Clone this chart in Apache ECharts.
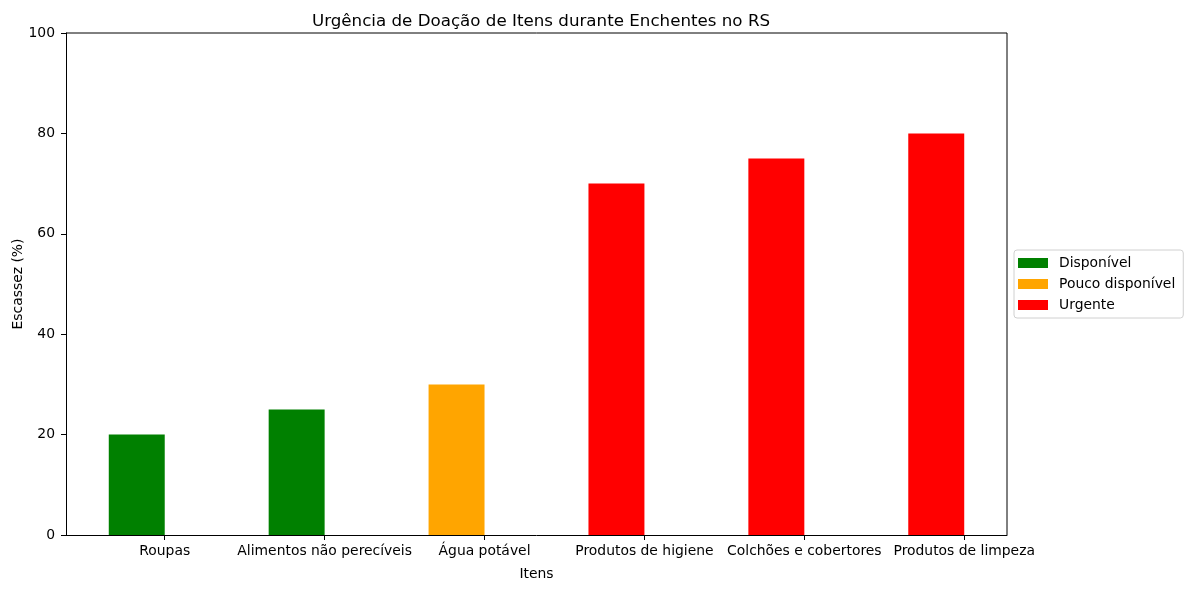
<!DOCTYPE html>
<html>
<head>
	<meta charset="UTF-8">
	<title>Urgência de Doação</title>
	<script src="https://cdn.jsdelivr.net/npm/echarts@6/dist/echarts.min.js"></script>
	<style>
		html, body { margin: 0; padding: 0; background: #fff; }
	</style>
</head>
<body>
<div id="main" style="width: 1189px;height:590px;"></div>
<script>
	// dados
	var itens = ['Roupas', 'Alimentos não perecíveis', 'Água potável', 'Produtos de higiene', 'Colchões e cobertores', 'Produtos de limpeza'];
	var escassez = [20, 25, 30, 70, 75, 80];
	var situacao = ['Disponível', 'Disponível', 'Pouco disponível', 'Urgente', 'Urgente', 'Urgente'];
	var categorias = ['Disponível', 'Pouco disponível', 'Urgente'];
	var cores = ['green', 'orange', 'red'];
	var yTicks = [0, 20, 40, 60, 80, 100];

	var font = 'DejaVu Sans';
	var larg = 0.35; // largura da barra em unidades do eixo

	// barra desenhada pelas escalas do eixo (centro em i - larg/2)
	function desenhaBarra(params, api){
		var x = api.value(0), y = api.value(1);
		var p0 = api.coord([x - larg / 2, y]);
		var p1 = api.coord([x + larg / 2, 0]);
		return {
			type: 'rect',
			shape: { x: p0[0], y: p0[1], width: p1[0] - p0[0], height: p1[1] - p0[1] },
			style: { fill: api.visual('color') }
		};
	}

	// uma série por categoria
	var series = categorias.map(function(cat, k){
		var data = [];
		for (var i = 0; i < itens.length; i++) {
			if (situacao[i] === cat) data.push([i - larg / 2, escassez[i]]);
		}
		return {
			name: cat,
			type: 'custom',
			renderItem: desenhaBarra,
			encode: { x: 0, y: 1 },
			data: data,
			itemStyle: { color: cores[k] }
		};
	});

	var myChart = echarts.init(document.getElementById('main'));
	var option = {
		animation: false,
		textStyle: { fontFamily: font, color: '#000' },
		title: {
			text: 'Urgência de Doação de Itens durante Enchentes no RS',
			left: 536,
			top: 8,
			textAlign: 'center',
			textStyle: { fontFamily: font, fontSize: 16.7, fontWeight: 'normal', color: '#000' }
		},
		legend: {
			orient: 'vertical',
			left: 1014,
			top: 250,
			data: categorias,
			icon: 'rect',
			itemWidth: 30,
			itemHeight: 10,
			itemGap: 7,
			padding: [6, 8, 6, 4],
			borderColor: '#d0d0d0',
			borderWidth: 1,
			borderRadius: 3,
			textStyle: { fontFamily: font, fontSize: 13.9, color: '#000', lineHeight: 14, padding: [0, 0, 0, 6] }
		},
		grid: { left: 66, right: 182, top: 33, bottom: 55, outerBoundsMode: 'none', containLabel: false },
		xAxis: {
			type: 'value',
			min: -0.6175,
			max: 5.2675,
			name: 'Itens',
			nameLocation: 'middle',
			nameGap: 32,
			nameMoveOverlap: false,
			nameTextStyle: { fontFamily: font, fontSize: 13.9, color: '#000' },
			axisLine: { show: true, onZero: false, lineStyle: { color: '#000', width: 1 } },
			axisTick: { show: true, inside: false, length: 5, customValues: [0, 1, 2, 3, 4, 5], lineStyle: { color: '#000', width: 1 } },
			axisLabel: {
				customValues: [0, 1, 2, 3, 4, 5],
				margin: 9,
				fontFamily: font, fontSize: 13.9, color: '#000',
				formatter: function(v){ return itens[Math.round(v)]; }
			},
			splitLine: { show: false }
		},
		yAxis: {
			type: 'value',
			min: 0,
			max: 100,
			interval: 20,
			name: 'Escassez (%)',
			nameLocation: 'middle',
			nameGap: 41,
			nameMoveOverlap: false,
			nameTextStyle: { fontFamily: font, fontSize: 13.9, color: '#000' },
			axisLine: { show: true, onZero: false, lineStyle: { color: '#000', width: 1 } },
			axisTick: { show: true, inside: false, length: 5, lineStyle: { color: '#000', width: 1 } },
			axisLabel: {
				margin: 11, fontFamily: font, fontSize: 13.9, color: '#000',
				formatter: function(v){ return yTicks.indexOf(v) >= 0 ? String(v) : ''; }
			},
			splitLine: { show: false }
		},
		graphic: [{
			// moldura do lado de cima e direito
			type: 'polyline',
			shape: { points: [[66, 33], [1007, 33], [1007, 535]] },
			style: { fill: null, stroke: '#000', lineWidth: 1 },
			z: 10, silent: true
		}],
		series: series
	};
	myChart.setOption(option);
</script>
</body>
</html>
